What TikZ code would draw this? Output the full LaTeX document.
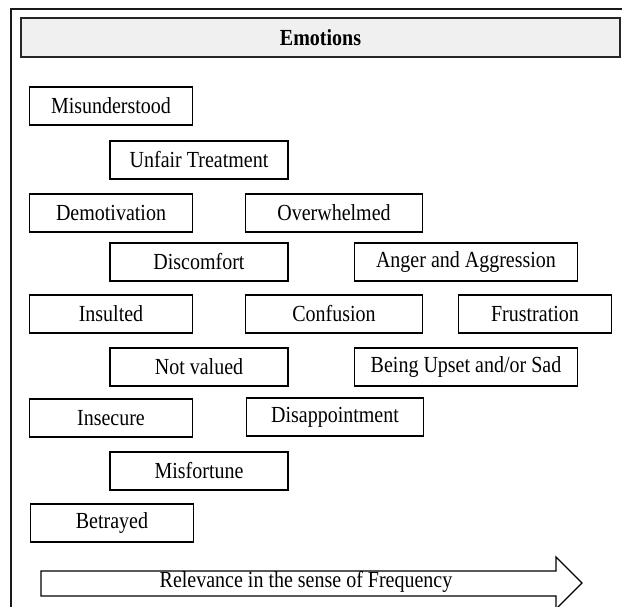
\documentclass[tikz,border=0pt]{standalone}
\usepackage{fontspec}
\usepackage{graphicx}
\setmainfont{Liberation Serif}
\newcommand{\vstr}[1]{\scalebox{1}[1.15]{#1}}
\begin{document}
\begin{tikzpicture}[x=1pt,y=-1pt,
  box/.style={draw=black, line width=1.5pt, fill=white, inner sep=0pt, minimum height=38pt, font=\fontsize{20}{22}\selectfont},
  wA/.style={minimum width=163pt},
  wB/.style={minimum width=178pt},
  wC/.style={minimum width=177pt},
  wD/.style={minimum width=223pt},
  wE/.style={minimum width=153pt},
  head/.style={draw=black!85, line width=2pt, fill=black!6, inner sep=0pt, minimum width=599pt, minimum height=39pt, font=\fontsize{20}{22}\selectfont\bfseries},
  frame/.style={draw=black!90, line width=1.2pt},
  arrowbody/.style={draw=black, line width=1.4pt, fill=white},
  lbl/.style={inner sep=0pt, font=\fontsize{20}{22}\selectfont}]
\useasboundingbox (0,0) rectangle (622,607);
\clip (0,0) rectangle (622,607);
\fill[white] (0,0) rectangle (622,607);
\draw[frame] (11,620) -- (11,9) -- (630,9);
\node[head] (emo) at (320.5,37.5) {\vstr{Emotions}};
\node[box,wA] (mis) at (111,106) {\vstr{Misunderstood}};
\node[box,wB] (unf) at (199,160) {\vstr{Unfair Treatment}};
\node[box,wA] (dem) at (111,213) {\vstr{Demotivation}};
\node[box,wC] (ovw) at (334,213) {\vstr{Overwhelmed}};
\node[box,wB] (dis) at (199,262) {\vstr{Discomfort}};
\node[box,wD] (ang) at (466,262) {\vstr{Anger and Aggression}};
\node[box,wA] (ins) at (111,314) {\vstr{Insulted}};
\node[box,wC] (con) at (334,314) {\vstr{Confusion}};
\node[box,wE] (fru) at (535,314) {\vstr{Frustration}};
\node[box,wB] (nov) at (199,367) {\vstr{Not valued}};
\node[box,wD] (ups) at (466,367) {\vstr{Being Upset and/or Sad}};
\node[box,wA] (isc) at (111,418) {\vstr{Insecure}};
\node[box,wC] (dap) at (335,417) {\vstr{Disappointment}};
\node[box,wB] (mfo) at (199,471) {\vstr{Misfortune}};
\node[box,wA] (bet) at (112,523) {\vstr{Betrayed}};
\draw[arrowbody] (41,571) -- (556,571) -- (556,557) -- (582,583) -- (556,609) -- (556,596) -- (41,596) -- cycle;
\node[lbl] (freq) at (306,582) {\vstr{Relevance in the sense of Frequency}};
\end{tikzpicture}
\end{document}
